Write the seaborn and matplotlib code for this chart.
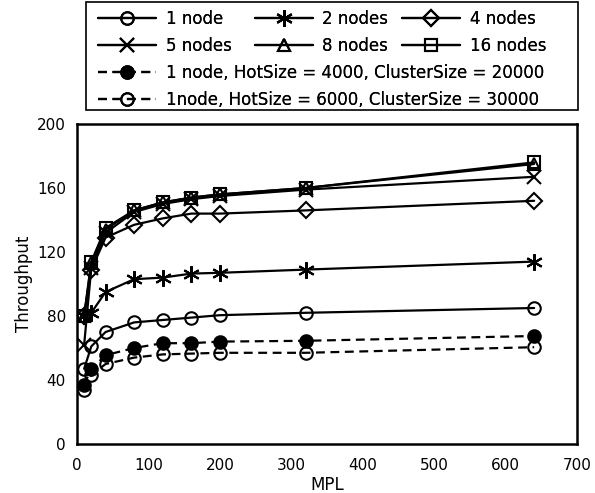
import matplotlib
matplotlib.use("Agg")
import matplotlib.pyplot as plt
from matplotlib.patches import Rectangle
import seaborn as sns
import pandas as pd

mpl_values = [10, 20, 40, 80, 120, 160, 200, 320, 640]

series_names = ["1 node", "2 nodes", "4 nodes", "5 nodes", "8 nodes", "16 nodes",
                "1 node, HotSize = 4000, ClusterSize = 20000",
                "1node, HotSize = 6000, ClusterSize = 30000"]

node1 = [47, 61, 70, 76, 77.5, 79, 80.5, 82, 85]
node2 = [80, 82, 95, 103, 104, 106.5, 107, 109, 114]
node4 = [80, 109, 129, 137, 141, 144, 144, 146, 152]
node5 = [62, 110, 132, 145, 150, 153, 155, 159, 167]
node8 = [80, 113, 134, 146, 151, 154, 156, 160, 175]
node16 = [80, 114, 135, 146, 151, 154, 156, 160, 176]
hot4000 = [37, 47, 55.5, 60, 63, 63, 64, 64.5, 67.5]
hot6000 = [34, 43, 50, 54, 56, 56.5, 57, 57, 60.5]

all_values = [node1, node2, node4, node5, node8, node16, hot4000, hot6000]

sns.set_style("white")
plt.rcParams["font.family"] = ["DejaVu Sans"]
for key in ["text.color", "axes.labelcolor", "xtick.color", "ytick.color"]:
    plt.rcParams[key] = "black"

styles = [
    dict(marker="o", mfc="none", ls="-", ms=9),
    dict(marker=(6, 2, 0), mfc="none", ls="-", ms=12),
    dict(marker="D", mfc="none", ls="-", ms=8),
    dict(marker="x", mfc="none", ls="-", ms=10),
    dict(marker="^", mfc="none", ls="-", ms=9),
    dict(marker="s", mfc="none", ls="-", ms=9),
    dict(marker="o", mfc="black", ls=(0, (4, 2.5)), ms=9),
    dict(marker="o", mfc="none", ls=(0, (4, 2.5)), ms=9),
]

fig = plt.figure(figsize=(5.95, 4.93), dpi=100)
ax = fig.add_axes([77 / 595, (493 - 444) / 493, (577 - 77) / 595, (444 - 124) / 493])

for name, vals, st in zip(series_names, all_values, styles):
    df = pd.DataFrame({"MPL": mpl_values, "Throughput": vals})
    sns.lineplot(data=df, x="MPL", y="Throughput", ax=ax, color="black",
                 linewidth=1.6, marker=st["marker"], markersize=st["ms"],
                 markerfacecolor=st["mfc"], markeredgecolor="black",
                 markeredgewidth=1.5, linestyle=st["ls"], label=name)

ax.set_xlim(0, 700)
ax.set_ylim(0, 200)
ax.set_xticks(range(0, 701, 100))
ax.set_yticks(range(0, 201, 40))
ax.set_yticks(range(0, 201, 20), minor=True)
ax.tick_params(axis="both", which="both", direction="in", labelsize=11,
               top=False, right=False, width=1.2)
ax.tick_params(axis="both", which="major", length=5, pad=8)
ax.tick_params(axis="x", which="major", pad=10)
ax.tick_params(axis="y", which="minor", length=5)
for sp in ax.spines.values():
    sp.set_linewidth(1.8)
    sp.set_color("black")
ax.set_xlabel("MPL", fontsize=12, labelpad=2)
ax.set_ylabel("Throughput", fontsize=12, labelpad=3)

handles, labels = ax.get_legend_handles_labels()
ax.get_legend().remove()

leg_kw = dict(frameon=False, loc="upper left", fontsize=12, handlelength=3.5,
              handletextpad=0.55, labelspacing=0.57, borderpad=0,
              borderaxespad=0)
columns = [([0, 3], 98), ([1, 4], 255), ([2, 5], 402)]
for idx, xpx in columns:
    leg = fig.legend([handles[i] for i in idx], [labels[i] for i in idx],
                     bbox_to_anchor=(xpx / 595, 1 - 9.6 / 493), **leg_kw)
    fig.add_artist(leg)
leg_b = fig.legend(handles[6:], labels[6:],
                   bbox_to_anchor=(98 / 595, 1 - 63.6 / 493), **leg_kw)
fig.add_artist(leg_b)

fig.patches.append(Rectangle((86 / 595, 1 - 110 / 493), (578 - 86) / 595, 108 / 493,
                             transform=fig.transFigure, fill=False,
                             edgecolor="black", linewidth=1.2))

fig.savefig("out.png", dpi=100)
